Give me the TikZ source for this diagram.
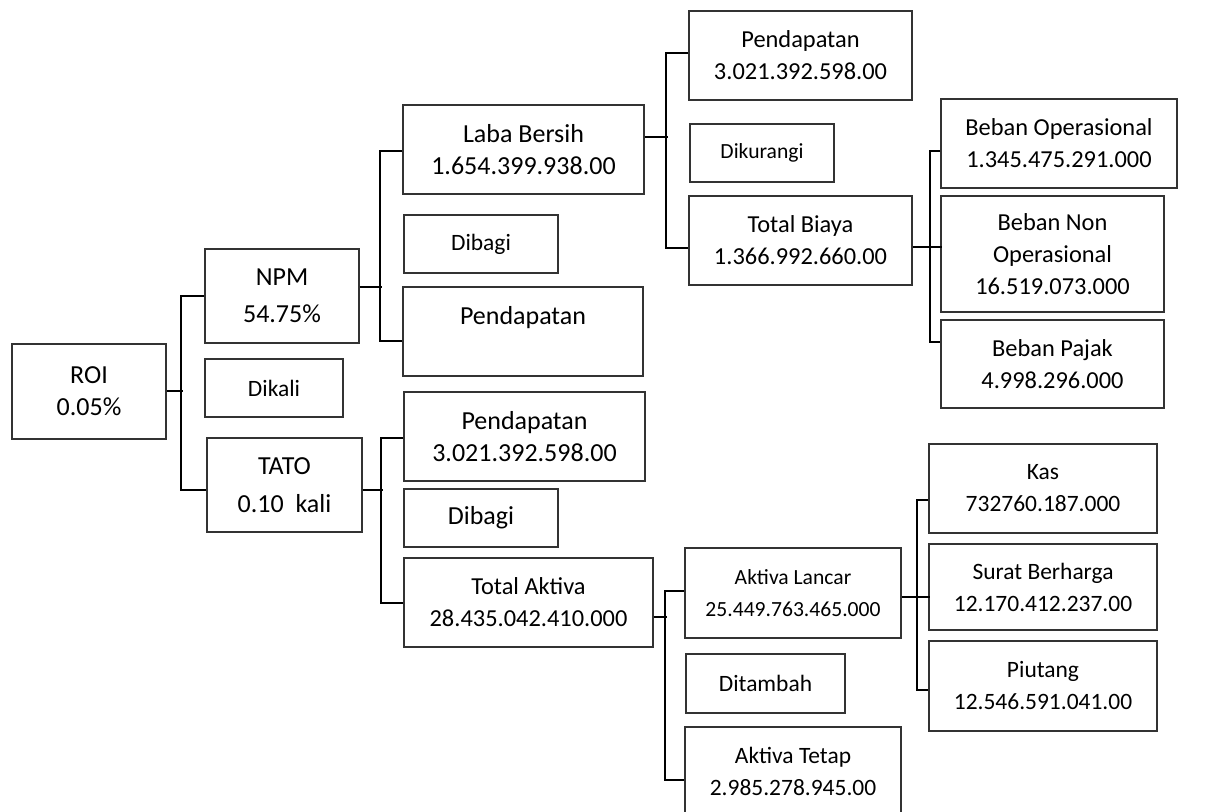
\documentclass[tikz,border=0pt]{standalone}
\usepackage{fontspec}
\setmainfont{Carlito}
\usetikzlibrary{calc}

\tikzset{every picture/.style={line width=0.75pt}}
\tikzset{
  box/.style={draw=black!80, line width=1pt, align=center, inner sep=0pt},
  boxwh/.style 2 args={minimum width=#1*0.75pt, minimum height=#2*0.75pt},
  link/.style={line width=1.5pt},
  fA/.style={font=\fontsize{19.5}{24}\selectfont},
  fAw/.style={font=\fontsize{19.5}{28}\selectfont},
  fB/.style={font=\fontsize{18.3}{24}\selectfont},
  fC/.style={font=\fontsize{17.6}{24}\selectfont},
  fD/.style={font=\fontsize{16.2}{24}\selectfont},
}

\begin{document}
\begin{tikzpicture}[x=0.75pt,y=0.75pt,yscale=-1,xscale=1]
\useasboundingbox (0,0) rectangle (1224,812);

% ROI and its two factors
\node[box,fA,boxwh={154}{95}] (roi) at (89,391.5) {ROI\\0.05\%};
\node[box,fAw,boxwh={154}{94}] (npm) at (282,296) {NPM\\54.75\%};
\node[box,fC,boxwh={138}{58}] (dikali) at (274,388) {Dikali};
\node[box,fAw,boxwh={155}{94}] (tato) at (284.5,485) {TATO\\0.10~~kali};

% NPM branch
\node[box,fA,boxwh={241}{89}] (laba) at (523.5,149.5) {Laba Bersih\\1.654.399.938.00};
\node[box,fC,boxwh={154}{58}] (dibagiA) at (481,244) {Dibagi};
\node[box,fA,boxwh={240}{89}] (pendA) at (523,331.5) {Pendapatan\\\mbox{}};

\node[box,fB,boxwh={223}{89}] (pendB) at (800.5,55.5) {Pendapatan\\3.021.392.598.00};
\node[box,fD,boxwh={144}{58}] (dikurangi) at (762,153) {Dikurangi};
\node[box,fB,boxwh={223}{89}] (biaya) at (800.5,240.5) {Total Biaya\\1.366.992.660.00};

\node[box,fB,boxwh={236}{89}] (bebanOp) at (1059,143.5) {Beban Operasional\\1.345.475.291.000};
\node[box,fB,boxwh={223}{116}] (bebanNon) at (1052.5,254) {Beban Non\\Operasional\\16.519.073.000};
\node[box,fB,boxwh={223}{88}] (pajak) at (1052.5,364) {Beban Pajak\\4.998.296.000};

% TATO branch
\node[box,fA,boxwh={241}{89}] (pendC) at (524.5,436.5) {Pendapatan\\3.021.392.598.00};
\node[box,fA,boxwh={154}{58}] (dibagiB) at (481,518) {Dibagi};
\node[box,fB,boxwh={249}{89}] (aktiva) at (528.5,602.5) {Total Aktiva\\28.435.042.410.000};

\node[box,fD,boxwh={216}{90}] (lancar) at (793,593) {Aktiva Lancar\\25.449.763.465.000};
\node[box,fC,boxwh={159}{59}] (ditambah) at (765.5,683.5) {Ditambah};
\node[box,fC,boxwh={216}{89}] (tetap) at (793,771.5) {Aktiva Tetap\\2.985.278.945.00};

\node[box,fC,boxwh={228}{89}] (kas) at (1043,488.5) {Kas\\732760.187.000};
\node[box,fC,boxwh={228}{86}] (surat) at (1043,587) {Surat Berharga\\12.170.412.237.00};
\node[box,fC,boxwh={228}{90}] (piutang) at (1043,686) {Piutang\\12.546.591.041.00};

% connectors
\draw[link] (roi.east) -- ++(16,0);
\draw[link] (npm.west) -- ++(-23,0) |- ($(tato.west)+(0,5)$);

\draw[link] ($(npm.east)+(0,-9)$) -- ++(22,0);
\draw[link] ($(laba.west)+(0,1.5)$) -- ++(-22,0) |- ($(pendA.west)+(0,9.5)$);

\draw[link] ($(tato.east)+(0,5)$) -- ++(20,0);
\draw[link] ($(pendC.west)+(0,1.5)$) -- ++(-22,0) |- (aktiva.west);

\draw[link] ($(laba.east)+(0,-12.5)$) -- ++(23,0);
\draw[link] ($(pendB.west)+(0,-2.5)$) -- ++(-22,0) |- ($(biaya.west)+(0,7.5)$);

\draw[link] ($(biaya.east)+(0,6.5)$) -- ++(29,0);
\draw[link] ($(bebanOp.west)+(0,7.5)$) -- ++(-10,0) |- ($(pajak.west)+(0,-22)$);

\draw[link] ($(aktiva.east)+(0,14.5)$) -- ++(13,0);
\draw[link] ($(lancar.west)+(0,-2)$) -- ++(-19,0) |- ($(tetap.west)+(0,8.5)$);

\draw[link] ($(lancar.east)+(0,4)$) -- ++(28,0);
\draw[link] ($(kas.west)+(0,11.5)$) -- ++(-11,0) |- ($(piutang.west)+(0,4)$);

\end{tikzpicture}
\end{document}
